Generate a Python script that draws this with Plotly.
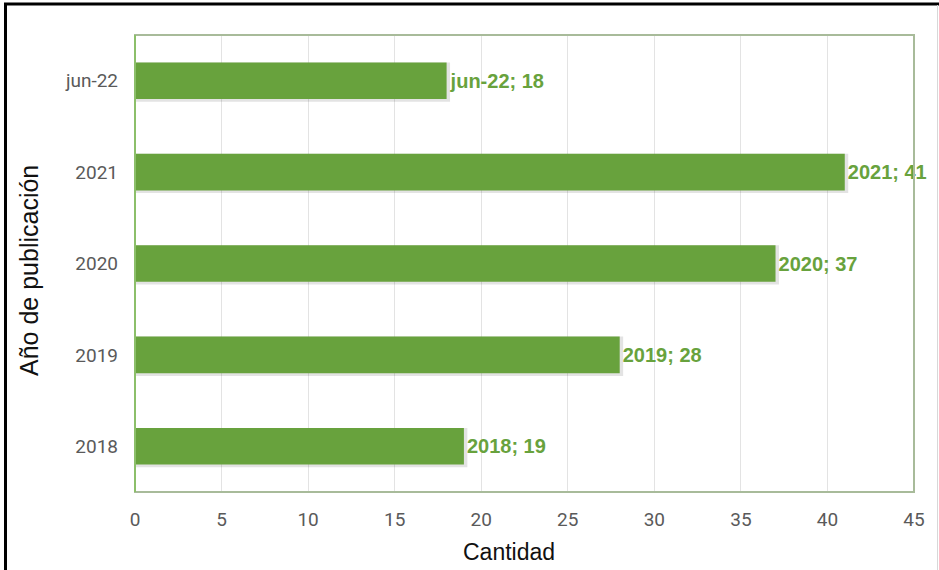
import plotly.graph_objects as go

# Publications per year
categorias = ["2018", "2019", "2020", "2021", "jun-22"]
cantidad = [19, 28, 37, 41, 18]
ticks_x = [0, 5, 10, 15, 20, 25, 30, 35, 40, 45]

verde = "#68a23d"
etiquetas = [f"{c}; {v}" for c, v in zip(categorias, cantidad)]

fig = go.Figure()

# soft drop shadow below and to the right of each bar
fig.add_trace(go.Bar(
    y=categorias, x=[v + 0.2 for v in cantidad], orientation="h",
    width=0.43, offset=-0.23,
    marker=dict(color="rgba(0,0,0,0.11)", line=dict(width=0)),
    hoverinfo="skip", showlegend=False,
))

fig.add_trace(go.Bar(
    y=categorias, x=cantidad, orientation="h",
    width=0.4, offset=-0.2,
    marker=dict(color=verde, line=dict(width=0)),
    text=etiquetas, textposition="outside", cliponaxis=False,
    textfont=dict(family="Liberation Sans Narrow, Arial Narrow, sans-serif",
                  size=20, color=verde, weight="bold"),
    showlegend=False,
))

W0, W1 = 135, 914
H0, H1 = 35, 492
pw, ph = W1 - W0, H1 - H0

def px_x(x):
    return (x - W0) / pw

def px_y(y):
    return (H1 - y) / ph

tick_font = dict(family="Roboto, Liberation Sans, sans-serif", size=19, color="#5a5a5a")

fig.update_layout(
    width=939, height=570,
    margin=dict(l=W0, r=939 - W1, t=H0, b=570 - H1),
    paper_bgcolor="white", plot_bgcolor="white",
    barmode="overlay",
    font=dict(family="Liberation Sans, Arial, sans-serif"),
    xaxis=dict(
        range=[0, 45], tickvals=ticks_x,
        showgrid=True, gridcolor="#e3e3e3", gridwidth=1,
        zeroline=False, showline=False,
        tickfont=tick_font, ticks="", ticklabelstandoff=14,
    ),
    yaxis=dict(
        categoryorder="array", categoryarray=categorias,
        showgrid=False, zeroline=False, showline=False,
        tickfont=tick_font, ticks="", ticklabelstandoff=16,
    ),
    annotations=[
        dict(text="Cantidad", xref="paper", yref="paper",
             x=px_x(509), y=px_y(552), showarrow=False,
             xanchor="center", yanchor="middle",
             font=dict(size=23, color="#111111")),
        dict(text="Año de publicación", xref="paper", yref="paper",
             x=px_x(29), y=px_y(270), showarrow=False, textangle=-90,
             xanchor="center", yanchor="middle",
             font=dict(size=25, color="#111111")),
    ],
    shapes=[
        # plot frame
        dict(type="rect", xref="paper", yref="paper", x0=0, y0=0, x1=1, y1=1,
             line=dict(color="#a8bb9a", width=2), layer="above"),
        dict(type="line", xref="paper", yref="paper", x0=0, y0=0, x1=0, y1=1,
             line=dict(color="#8cbf6a", width=2), layer="above"),
        # outer border of the figure
        dict(type="line", xref="paper", yref="paper",
             x0=px_x(4), y0=px_y(4), x1=px_x(939), y1=px_y(4),
             line=dict(color="#000000", width=3)),
        dict(type="line", xref="paper", yref="paper",
             x0=px_x(5.5), y0=px_y(3), x1=px_x(5.5), y1=px_y(575),
             line=dict(color="#000000", width=3)),
        dict(type="line", xref="paper", yref="paper",
             x0=px_x(937.5), y0=px_y(5), x1=px_x(937.5), y1=px_y(575),
             line=dict(color="#d8d8d8", width=1)),
    ],
)

fig.write_html("out.html")
